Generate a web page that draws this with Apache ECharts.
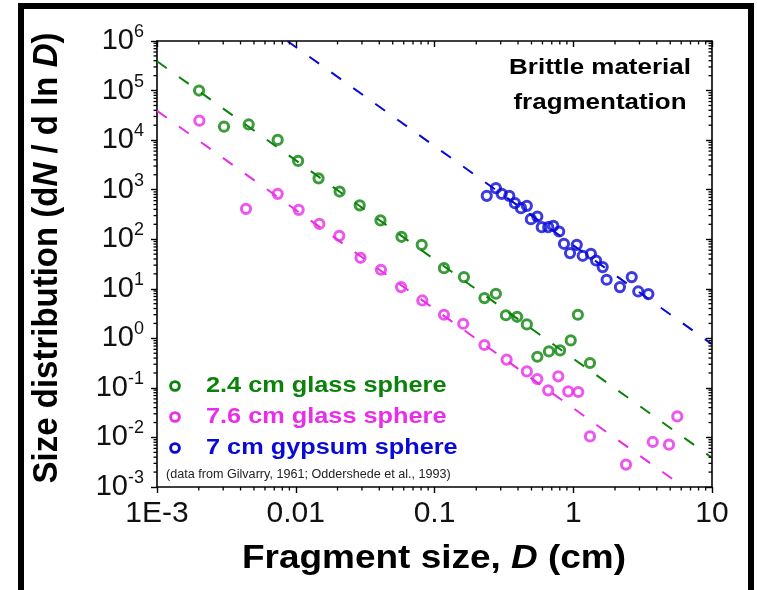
<!DOCTYPE html>
<html>
<head>
<meta charset="utf-8">
<script src="https://cdn.jsdelivr.net/npm/echarts@6/dist/echarts.min.js"></script>
<style>
  html, body { margin: 0; padding: 0; background: #fff; }
  #chart { width: 757px; height: 590px; }
</style>
</head>
<body>
<div id="chart"></div>
<script>
// Fragment size distributions of brittle spheres (log-log)
const seriesNames = ['2.4 cm glass sphere', '7.6 cm glass sphere', '7 cm gypsum sphere'];
const seriesColors = ['#0b830b', '#ea2dea', '#0a0ad8'];

// 2.4 cm glass sphere
const glass24D = [0.00201, 0.00304, 0.00458, 0.00741, 0.0104, 0.0146, 0.0207, 0.0289, 0.0408, 0.0578, 0.0809, 0.117, 0.163, 0.229, 0.277, 0.327, 0.394, 0.463, 0.551, 0.668, 0.804, 0.959, 1.08, 1.32];
const glass24N = [1.0e5, 1.87e4, 2.07e4, 1.01e4, 3810, 1690, 916, 482, 240, 112, 77, 26.1, 17.2, 6.49, 7.93, 2.92, 2.72, 1.91, 0.425, 0.545, 0.570, 0.907, 2.99, 0.318];

// 7.6 cm glass sphere
const glass76D = [0.00202, 0.00438, 0.00741, 0.0105, 0.0148, 0.0206, 0.0293, 0.0411, 0.0574, 0.0817, 0.117, 0.161, 0.229, 0.331, 0.463, 0.551, 0.660, 0.780, 0.920, 1.087, 1.32, 2.40, 3.74, 4.90, 5.62];
const glass76N = [2.47e4, 410, 823, 392, 204, 117, 42.2, 24.2, 10.8, 5.81, 2.99, 1.97, 0.733, 0.371, 0.215, 0.151, 0.0891, 0.171, 0.0849, 0.0826, 0.0105, 0.00283, 0.00811, 0.00716, 0.0266];

// 7 cm gypsum sphere
const gypsumD = [0.238, 0.277, 0.305, 0.346, 0.380, 0.420, 0.463, 0.495, 0.551, 0.593, 0.660, 0.718, 0.792, 0.857, 0.948, 1.06, 1.17, 1.34, 1.46, 1.63, 1.74, 2.17, 2.64, 2.94, 3.48];
const gypsumN = [750, 1072, 823, 750, 535, 424, 471, 254, 287, 175, 175, 186, 143, 80.8, 52.5, 77, 46.3, 50.8, 37.2, 27.4, 15.2, 10.8, 17.2, 8.83, 7.82];

// Power-law guide lines (D^-2), end points
const fit24 = [[0.001, 3.9e5], [10, 3.9e-3]];
const fit76 = [[0.001, 3.9e4], [6.24, 1e-3]];
const fitGyp = [[0.0087, 1e6], [10, 0.76]];

// Axes
const xTickValues = [0.001, 0.01, 0.1, 1, 10];
const xTickLabels = ['1E-3', '0.01', '0.1', '1', '10'];
const X_MIN = 0.001, X_MAX = 10;
const Y_MIN = 1e-3, Y_MAX = 1e6;

const FONT = '"Liberation Sans", Arial, Helvetica, sans-serif';

// minor tick positions (2..9 within each decade)
function minorTicks(lo, hi) {
  const out = [];
  for (let e = lo; e < hi; e++) {
    for (let k = 2; k <= 9; k++) out.push(k * Math.pow(10, e));
  }
  return out;
}
const xMinor = minorTicks(-3, 1);
const yMinor = minorTicks(-3, 6);

function pairs(xs, ys) { return xs.map((x, i) => [x, ys[i]]); }

const chart = echarts.init(document.getElementById('chart'), null, { renderer: 'canvas' });

const axisLineStyle = { color: '#000', width: 1.6 };

function scatter(i, xs, ys) {
  return {
    name: seriesNames[i],
    type: 'scatter',
    data: pairs(xs, ys),
    symbol: 'circle',
    symbolSize: 9.2,
    itemStyle: { color: 'rgba(255,255,255,0)', borderColor: seriesColors[i], borderWidth: 3 },
    z: 5,
    silent: true
  };
}
function guide(i, pts) {
  return {
    type: 'line',
    data: pts,
    showSymbol: false,
    symbol: 'none',
    lineStyle: { color: seriesColors[i], width: 2, type: [12, 15] },
    z: 3,
    silent: true
  };
}

const MINOR_LEN = 3.5;
const tickStyle = { stroke: '#000', lineWidth: 1.3 };

const option = {
  animation: false,
  backgroundColor: '#fff',
  grid: { left: 157, right: 45, top: 41, bottom: 103, containLabel: false },
  xAxis: [
    {
      type: 'log', logBase: 10, min: X_MIN, max: X_MAX, splitNumber: 4,
      axisLine: { show: true, lineStyle: axisLineStyle },
      axisTick: { show: true, inside: false, length: 6, lineStyle: { color: '#000', width: 1.4 } },
      splitLine: { show: false },
      axisLabel: {
        margin: 12, fontSize: 30, color: '#111', fontFamily: FONT,
        formatter: v => {
          const i = xTickValues.findIndex(t => Math.abs(Math.log10(t) - Math.log10(v)) < 1e-6);
          return i >= 0 ? xTickLabels[i] : '';
        }
      }
    },
    {
      type: 'log', logBase: 10, min: X_MIN, max: X_MAX, splitNumber: 4, position: 'top',
      axisLine: { show: true, lineStyle: axisLineStyle },
      axisTick: { show: true, inside: true, length: 6, lineStyle: { color: '#000', width: 1.4 } },
      splitLine: { show: false },
      axisLabel: { show: false }
    }
  ],
  yAxis: [
    {
      type: 'log', logBase: 10, min: Y_MIN, max: Y_MAX, splitNumber: 9,
      axisLine: { show: true, lineStyle: axisLineStyle },
      axisTick: { show: true, inside: false, length: 6, lineStyle: { color: '#000', width: 1.4 } },
      splitLine: { show: false },
      axisLabel: {
        margin: 13, color: '#111', fontFamily: FONT,
        formatter: v => '{b|10}{s|' + Math.round(Math.log10(v)) + '}',
        rich: {
          b: { fontSize: 29, fontFamily: FONT, color: '#111', lineHeight: 36 },
          s: { fontSize: 18, fontFamily: FONT, color: '#111', verticalAlign: 'top', lineHeight: 20 }
        }
      }
    },
    {
      type: 'log', logBase: 10, min: Y_MIN, max: Y_MAX, splitNumber: 9, position: 'right',
      axisLine: { show: true, lineStyle: axisLineStyle },
      axisTick: { show: true, inside: true, length: 6, lineStyle: { color: '#000', width: 1.4 } },
      splitLine: { show: false },
      axisLabel: { show: false }
    }
  ],
  series: [
    guide(2, fitGyp),
    guide(0, fit24),
    guide(1, fit76),
    scatter(0, glass24D, glass24N),
    scatter(1, glass76D, glass76N),
    scatter(2, gypsumD, gypsumN),
    {
      // minor ticks on bottom (outward) and top (inward)
      type: 'custom', silent: true, clip: false, z: 10,
      data: xMinor.map(v => [v, 1]),
      renderItem: (params, api) => {
        const v = api.value(0);
        const b = api.coord([v, Y_MIN]);
        const t = api.coord([v, Y_MAX]);
        return { type: 'group', children: [
          { type: 'line', shape: { x1: b[0], y1: b[1], x2: b[0], y2: b[1] + MINOR_LEN }, style: tickStyle },
          { type: 'line', shape: { x1: t[0], y1: t[1], x2: t[0], y2: t[1] + MINOR_LEN }, style: tickStyle }
        ] };
      }
    },
    {
      // minor ticks on left (outward) and right (inward)
      type: 'custom', silent: true, clip: false, z: 10,
      data: yMinor.map(v => [1, v]),
      renderItem: (params, api) => {
        const v = api.value(1);
        const l = api.coord([X_MIN, v]);
        const r = api.coord([X_MAX, v]);
        return { type: 'group', children: [
          { type: 'line', shape: { x1: l[0] - MINOR_LEN, y1: l[1], x2: l[0], y2: l[1] }, style: tickStyle },
          { type: 'line', shape: { x1: r[0] - MINOR_LEN, y1: r[1], x2: r[0], y2: r[1] }, style: tickStyle }
        ] };
      }
    }
  ],
  graphic: [
    // outer frame
    { type: 'rect', shape: { x: 21, y: 6, width: 730, height: 700 },
      style: { fill: 'none', stroke: '#000', lineWidth: 6 }, silent: true, z: 100 },
    // y-axis title
    { type: 'text', x: 47, y: 258, rotation: Math.PI / 2, scaleY: 1.08, silent: true,
      style: {
        text: '{b|Size distribution (d}{i|N}{b| / d ln }{i|D}{b|)}',
        align: 'center', verticalAlign: 'middle',
        rich: {
          b: { fontSize: 33, fontWeight: 'bold', fontFamily: FONT, fill: '#000' },
          i: { fontSize: 33, fontWeight: 'bold', fontStyle: 'italic', fontFamily: FONT, fill: '#000' }
        }
      } },
    // x-axis title
    { type: 'text', x: 434, y: 559, scaleX: 1.12, silent: true,
      style: {
        text: '{b|Fragment size, }{i|D}{b| (cm)}',
        align: 'center', verticalAlign: 'middle',
        rich: {
          b: { fontSize: 33, fontWeight: 'bold', fontFamily: FONT, fill: '#000' },
          i: { fontSize: 33, fontWeight: 'bold', fontStyle: 'italic', fontFamily: FONT, fill: '#000' }
        }
      } },
    // annotation
    { type: 'text', x: 600, y: 85, scaleX: 1.18, silent: true,
      style: {
        text: 'Brittle material\nfragmentation',
        align: 'center', verticalAlign: 'middle',
        fontSize: 22, fontWeight: 'bold', fontFamily: FONT, fill: '#000', lineHeight: 35
      } },
    // legend
    ...seriesNames.flatMap((name, i) => [
      { type: 'circle', shape: { cx: 175, cy: 386 + i * 31, r: 4.4 }, silent: true,
        style: { fill: 'none', stroke: seriesColors[i], lineWidth: 2.9 } },
      { type: 'text', x: 206, y: 386 + i * 31, scaleX: 1.15, silent: true,
        style: { text: name, align: 'left', verticalAlign: 'middle',
          fontSize: 22, fontWeight: 'bold', fontFamily: FONT, fill: seriesColors[i] } }
    ]),
    // data source note
    { type: 'text', x: 166, y: 475, scaleX: 1.05, silent: true,
      style: { text: '(data from Gilvarry, 1961; Oddershede et al., 1993)', align: 'left', verticalAlign: 'middle',
        fontSize: 12, fontFamily: FONT, fill: '#222' } }
  ]
};

chart.setOption(option);
</script>
</body>
</html>
